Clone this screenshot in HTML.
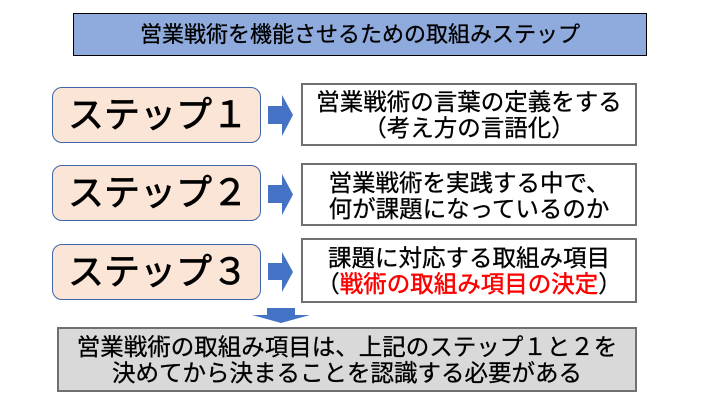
<!DOCTYPE html>
<html><head><meta charset="utf-8"><style>
html,body{margin:0;padding:0;background:#fff;}
body{width:720px;height:405px;position:relative;overflow:hidden;font-family:"Liberation Sans","Noto Sans CJK JP",sans-serif;color:#000;}
.b{position:absolute;box-sizing:border-box;display:flex;align-items:center;justify-content:center;text-align:center;white-space:nowrap;}
.title{left:73px;top:13px;width:574px;height:43px;background:#8FAADC;border:1.5px solid #000;font-size:22px;line-height:26px;-webkit-text-stroke:0.3px #000;}
.step{left:52px;width:209px;height:56px;background:#FBE5D6;border:1px solid #3F65A8;border-radius:10px;font-size:36px;line-height:40px;justify-content:flex-start;padding-left:15px;-webkit-text-stroke:0.8px #000;}
.rb{left:301px;width:336px;background:#fff;border:2px solid #707070;font-size:23.5px;line-height:26px;-webkit-text-stroke:0.3px #000;}
.bottom{left:57px;top:327px;width:580px;height:65px;background:#D9D9D9;border:2px solid #707070;font-size:23.5px;line-height:26px;-webkit-text-stroke:0.3px #000;}
.red{color:#FF0000;-webkit-text-stroke:0.5px #FF0000;}
svg{position:absolute;left:0;top:0;}
</style></head><body>
<div class="b title"><div>営業戦術を機能させるための取組みステップ</div></div>

<div class="b step" style="top:87px;"><div>ステップ１</div></div>
<div class="b step" style="top:165px;"><div>ステップ２</div></div>
<div class="b step" style="top:244px;"><div>ステップ３</div></div>

<svg width="720" height="405">
  <polygon points="268,106 282,106 282,95 293,115 282,136 282,124 268,124" fill="#4472C4"/>
  <polygon points="268,185 282,185 282,174 293,194.5 282,215 282,203 268,203" fill="#4472C4"/>
  <polygon points="268,263 282,263 282,252 293,272 282,292 282,280 268,280" fill="#4472C4"/>
  <polygon points="267,308 295,308 295,315 310,315 281,323 252,315 267,315" fill="#4472C4"/>
</svg>

<div class="b rb" style="top:83px;height:63px;"><div>営業戦術の言葉の定義をする<br>（考え方の言語化）</div></div>
<div class="b rb" style="top:163px;height:63px;padding-top:3px;"><div>営業戦術を実践する中で、<br>何が課題になっているのか</div></div>
<div class="b rb" style="top:238px;height:65px;"><div>課題に対応する取組み項目<br>（<span class="red">戦術の取組み項目の決定</span>）</div></div>

<div class="b bottom"><div>営業戦術の取組み項目は、上記のステップ１と２を<br>決めてから決まることを認識する必要がある</div></div>
</body></html>
